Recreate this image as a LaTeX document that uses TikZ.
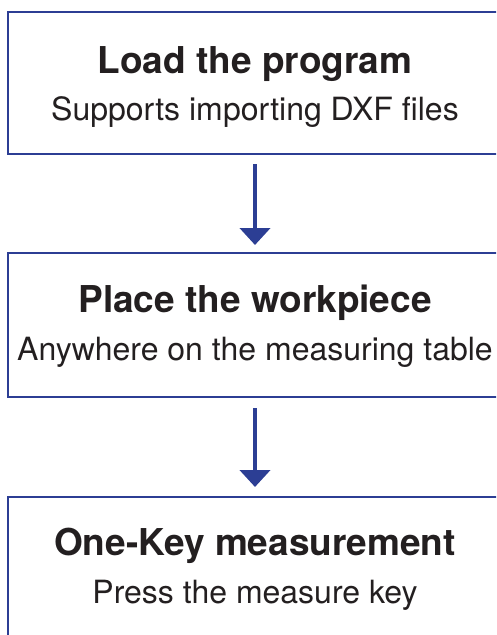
\documentclass[tikz,border=0pt]{standalone}
\usepackage{fontspec}
\setmainfont{TeX Gyre Heros}
\usetikzlibrary{arrows.meta}
\definecolor{flowblue}{RGB}{44,62,148}
\definecolor{txt}{RGB}{35,31,32}
\tikzset{
  stepbox/.style={rectangle, minimum width=532pt, inner sep=0pt, outer sep=0pt},
  boxline/.style={draw=flowblue, line width=2.4pt},
  ttl/.style={anchor=base, text=txt, font=\fontsize{37}{44}\selectfont\bfseries, inner sep=0pt},
  sub/.style={anchor=base, text=txt, font=\fontsize{32}{38}\selectfont, inner sep=0pt},
  flowarrow/.style={draw=flowblue, line width=4.5pt, -{Triangle[width=30pt,length=17pt]}}
}
\begin{document}
\begin{tikzpicture}[x=1pt,y=1pt]
\useasboundingbox (0,0) rectangle (496,-635);
\clip (0,0) rectangle (496,-635);
\node[stepbox, minimum height=142pt] (b1) at (274,-83) {};
\node[stepbox, minimum height=144pt] (b2) at (274,-325) {};
\node[stepbox, minimum height=146pt] (b3) at (274,-570) {};
\foreach \b in {b1,b2,b3}
  \draw[boxline] (\b.north east) -- (\b.north west) -- (\b.south west) -- (\b.south east);
\node[ttl] (t1) at (255,-73) {Load the program};
\node[sub] (s1) at (255,-120) {Supports importing DXF files};
\node[ttl] (t2) at (255,-312) {Place the workpiece};
\node[sub] (s2) at (255,-360) {Anywhere on the measuring table};
\node[ttl] (t3) at (255,-555) {One-Key measurement};
\node[sub] (s3) at (255,-603) {Press the measure key};
\draw[flowarrow, shorten <=10pt, shorten >=8pt] (t1 |- b1.south) -- (t1 |- b2.north);
\draw[flowarrow, shorten <=11pt, shorten >=10pt] (t1 |- b2.south) -- (t1 |- b3.north);
\end{tikzpicture}
\end{document}
